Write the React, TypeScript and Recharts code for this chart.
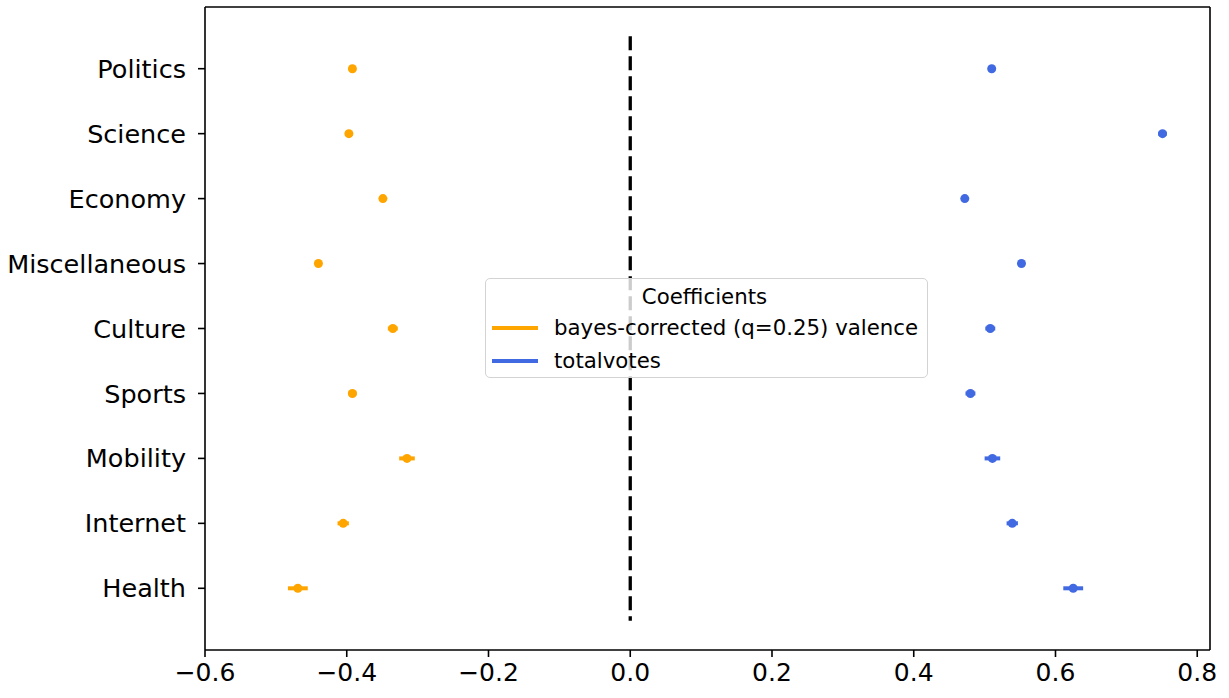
import React from 'react';
import {
  ScatterChart,
  Scatter,
  XAxis,
  YAxis,
  ErrorBar,
  ReferenceLine,
} from 'recharts';

const categories = ['Politics', 'Science', 'Economy', 'Miscellaneous', 'Culture', 'Sports', 'Mobility', 'Internet', 'Health'];
const bayesCoef = [-0.392, -0.397, -0.349, -0.44, -0.335, -0.392, -0.315, -0.405, -0.469];
const bayesErr = [0.004, 0.005, 0.004, 0.004, 0.007, 0.006, 0.011, 0.008, 0.014];
const votesCoef = [0.51, 0.751, 0.472, 0.552, 0.508, 0.48, 0.511, 0.539, 0.625];
const votesErr = [0.003, 0.006, 0.004, 0.004, 0.007, 0.007, 0.011, 0.008, 0.014];
const xTicks = [-0.6, -0.4, -0.2, 0, 0.2, 0.4, 0.6, 0.8];

const colors = {
  orange: '#FFA500',
  blue: '#4169E1',
  black: '#000000',
} as const;

const font = '"DejaVu Sans", sans-serif';
const X_MAX = 0.818;
const Y_MIN = -0.95;
const Y_MAX = 8.95;

const bayesData = categories.map((c, i) => ({ name: c, x: bayesCoef[i], y: i, err: bayesErr[i] }));
const votesData = categories.map((c, i) => ({ name: c, x: votesCoef[i], y: i, err: votesErr[i] }));

const formatX = (v: number) => {
  const s = Math.abs(v).toFixed(1);
  return v < -1e-9 ? `\u2212${s}` : s;
};

const dot = (color: string) => (props: any) => (
  <circle cx={props.cx} cy={props.cy} r={4.5} fill={color} />
);

export default function App() {
  return (
    <div style={{ position: 'absolute', left: 0, top: 0, width: 1229, height: 698, background: '#fff' }}>
      <ScatterChart width={1229} height={698} margin={{ top: 7, right: 19, bottom: 0, left: 0 }}>
        <XAxis
          type="number"
          dataKey="x"
          domain={[-0.6, X_MAX]}
          allowDataOverflow
          ticks={xTicks}
          tickFormatter={formatX}
          height={48}
          tickSize={7}
          tickMargin={6}
          stroke={colors.black}
          strokeWidth={1.6}
          tick={{ fill: colors.black, fontSize: 25, fontFamily: font }}
        />
        <YAxis
          type="number"
          dataKey="y"
          domain={[Y_MIN, Y_MAX]}
          allowDataOverflow
          reversed
          ticks={[0, 1, 2, 3, 4, 5, 6, 7, 8]}
          interval={0}
          tickFormatter={(v: number) => categories[v] ?? ''}
          width={205}
          tickSize={7}
          tickMargin={12}
          stroke={colors.black}
          strokeWidth={1.6}
          tick={{ fill: colors.black, fontSize: 25.5, fontFamily: font }}
        />
        <ReferenceLine y={Y_MIN} stroke={colors.black} strokeWidth={1.6} ifOverflow="visible" />
        <ReferenceLine x={X_MAX} stroke={colors.black} strokeWidth={1.6} ifOverflow="visible" />
        <ReferenceLine
          segment={[{ x: 0, y: -0.5 }, { x: 0, y: 8.5 }]}
          stroke={colors.black}
          strokeWidth={3.3}
          strokeDasharray="14 6"
          ifOverflow="visible"
        />
        <Scatter data={bayesData} fill={colors.orange} shape={dot(colors.orange)} isAnimationActive={false}>
          <ErrorBar dataKey="err" direction="x" width={0} stroke={colors.orange} strokeWidth={4} />
        </Scatter>
        <Scatter data={votesData} fill={colors.blue} shape={dot(colors.blue)} isAnimationActive={false}>
          <ErrorBar dataKey="err" direction="x" width={0} stroke={colors.blue} strokeWidth={4} />
        </Scatter>
      </ScatterChart>
      <div
        style={{
          position: 'absolute',
          left: 485,
          top: 278,
          width: 443,
          height: 100,
          boxSizing: 'border-box',
          border: '1.5px solid #d3d3d3',
          borderRadius: 5,
          background: 'rgba(255,255,255,0.8)',
          fontFamily: font,
          fontSize: 21.3,
          color: colors.black,
        }}
      >
        <div style={{ position: 'absolute', left: 0, right: 0, top: 5, textAlign: 'center', paddingRight: 4 }}>
          Coefficients
        </div>
        {[
          { label: 'bayes-corrected (q=0.25) valence', color: colors.orange, top: 36 },
          { label: 'totalvotes', color: colors.blue, top: 69 },
        ].map((row) => (
          <div key={row.label} style={{ position: 'absolute', left: 6, top: row.top, height: 26, display: 'flex', alignItems: 'center' }}>
            <span style={{ display: 'inline-block', width: 46, height: 4, background: row.color, marginRight: 16 }} />
            <span style={{ lineHeight: '26px' }}>{row.label}</span>
          </div>
        ))}
      </div>
    </div>
  );
}
